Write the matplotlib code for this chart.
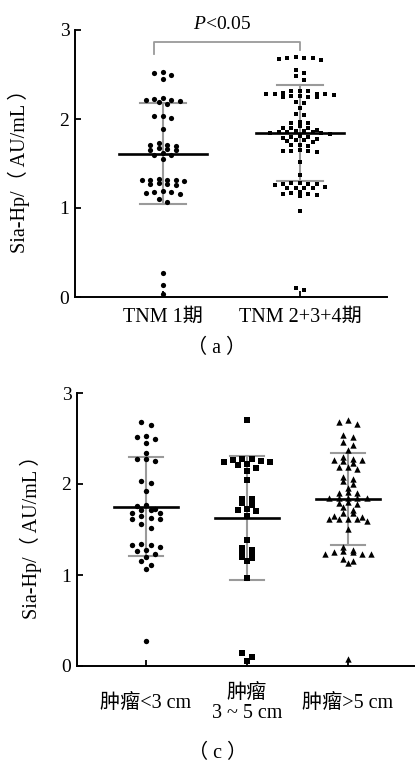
import numpy as np
import matplotlib
matplotlib.use("Agg")
import matplotlib.pyplot as plt

plt.rcParams['font.family'] = ['Liberation Serif', 'Noto Sans CJK SC', 'DejaVu Sans']
plt.rcParams['mathtext.fontset'] = 'custom'
plt.rcParams['mathtext.it'] = 'Liberation Serif:italic'
plt.rcParams['mathtext.rm'] = 'Liberation Serif'

# ---------------- data ----------------
# panel (a)
a_labels = ["TNM 1期", "TNM 2+3+4期"]
a_g1 = [2.53, 2.45, 2.50, 2.52,
        2.21, 2.23, 2.19, 2.17, 2.24, 2.20, 2.21,
        2.01, 2.03, 2.03, 1.89,
        1.73, 1.71, 1.71, 1.70, 1.66, 1.65, 1.67, 1.65, 1.62, 1.60, 1.59, 1.55,
        1.33, 1.32, 1.31, 1.32, 1.31, 1.30, 1.28, 1.27, 1.26, 1.27,
        1.19, 1.18, 1.17, 1.18, 1.16, 1.10, 1.07,
        0.27, 0.13, 0.03]
a_g2 = [2.67, 2.69, 2.69, 2.68, 2.70, 2.66,
        2.55, 2.52, 2.48, 2.44,
        2.28, 2.28, 2.28, 2.26, 2.31, 2.25, 2.31, 2.25, 2.25, 2.29, 2.31, 2.26, 2.28, 2.27,
        2.19, 2.18, 2.12, 2.05, 2.06, 1.97, 1.95, 1.96,
        1.92, 1.90, 1.90, 1.90, 1.88,
        1.86, 1.85, 1.85, 1.85, 1.84, 1.83, 1.86, 1.84,
        1.80, 1.80, 1.79, 1.81, 1.78,
        1.76, 1.76, 1.75, 1.74,
        1.71, 1.70, 1.71,
        1.64, 1.64, 1.63, 1.65, 1.64,
        1.52, 1.37,
        1.28, 1.27, 1.27, 1.26, 1.27, 1.28,
        1.23, 1.23, 1.24, 1.22, 1.23,
        1.17, 1.16, 1.16, 1.15, 1.13, 1.18,
        0.97, 0.08, 0.10]
a_mean = [1.61, 1.84]
a_sd_lo = [1.04, 1.30]
a_sd_hi = [2.18, 2.38]
a_ptext = "$P$<0.05"

# panel (c)
c_labels = ["肿瘤<3 cm", "肿瘤\n3 ~ 5 cm", "肿瘤>5 cm"]
c_g1 = [2.68, 2.65, 2.53, 2.52, 2.50, 2.45, 2.34, 2.28, 2.28, 2.25, 2.03, 2.01, 1.92,
        1.77, 1.76, 1.73, 1.71, 1.71, 1.68, 1.68, 1.65, 1.63, 1.61, 1.61, 1.56, 1.52,
        1.34, 1.33, 1.33, 1.31, 1.27, 1.26, 1.23, 1.20, 1.15, 1.11, 1.07, 0.27]
c_g2 = [2.70, 2.28, 2.27, 2.26, 2.25, 2.24, 2.24, 2.22, 2.21, 2.18, 2.14, 2.04,
        1.84, 1.84, 1.79, 1.77, 1.73, 1.71, 1.70, 1.65,
        1.38, 1.30, 1.27, 1.25, 1.22, 1.20, 1.19, 1.15, 0.97,
        0.14, 0.10, 0.05]
c_g3 = [2.70, 2.68, 2.66, 2.54, 2.52, 2.46, 2.43, 2.37,
        2.30, 2.28, 2.26, 2.25, 2.23, 2.26, 2.19, 2.17, 2.19,
        2.08, 2.05, 2.03, 2.00, 1.96, 1.91, 1.90, 1.90,
        1.85, 1.85, 1.85, 1.85, 1.85, 1.80, 1.78, 1.79, 1.75, 1.71, 1.68,
        1.64, 1.62, 1.68, 1.62, 1.65, 1.59, 1.61, 1.62, 1.51,
        1.31, 1.27, 1.26, 1.25, 1.25, 1.23, 1.23, 1.23, 1.18, 1.15, 1.13,
        0.08]
c_mean = [1.75, 1.63, 1.83]
c_sd_lo = [1.21, 0.95, 1.33]
c_sd_hi = [2.30, 2.31, 2.34]

ylabel = "Sia-Hp/（ AU/mL ）"
yticks = [0, 1, 2, 3]


def swarm_offsets(vals, row_h, step):
    vals = np.asarray(vals, dtype=float)
    order = list(np.argsort(-vals, kind="stable"))
    rows, cur = [], [order[0]]
    for idx in order[1:]:
        if vals[cur[0]] - vals[idx] < row_h:
            cur.append(idx)
        else:
            rows.append(cur)
            cur = [idx]
    rows.append(cur)
    off = np.zeros(len(vals))
    for r in rows:
        n = len(r)
        slots = [(k - (n - 1) / 2) * step for k in range(n)]
        slots_sorted = sorted(slots, key=lambda s: (abs(s), s))
        for idx, s in zip(r, slots_sorted):
            off[idx] = s
    return off


def style_axes(ax, xlim):
    ax.set_xlim(*xlim)
    ax.set_ylim(0, 3)
    for s in ['top', 'right']:
        ax.spines[s].set_visible(False)
    for s in ['left', 'bottom']:
        ax.spines[s].set_linewidth(1.4)
        ax.spines[s].set_color('black')
    ax.set_yticks(yticks)
    ax.set_yticklabels([str(t) for t in yticks], fontsize=14)
    ax.tick_params(axis='y', direction='in', length=4.5, width=1.3, pad=4)
    ax.tick_params(axis='x', direction='in', length=4.5, width=1.3)


def draw_group(ax, x, vals, marker, size, step, mean, lo, hi):
    off = swarm_offsets(vals, 0.045, step)
    ax.plot([x, x], [lo, hi], color='#9a9a9a', lw=1.5, zorder=2)
    for yv in (lo, hi):
        ax.plot([x - 0.17, x + 0.17], [yv, yv], color='#9a9a9a', lw=1.5, zorder=2)
    ax.scatter(x + off, vals, marker=marker, s=size, color='black',
               linewidths=0, zorder=3, clip_on=False)
    ax.plot([x - 0.32, x + 0.32], [mean, mean], color='black', lw=1.9, zorder=4)


fig = plt.figure(figsize=(4.15, 7.64), dpi=100)

# ---------------- panel (a) ----------------
axa = fig.add_axes([75 / 415, 1 - 297 / 764, (387 - 75) / 415, (297 - 30) / 764])
style_axes(axa, (0.358, 2.635))
a_groups = [a_g1, a_g2]
a_markers = ['o', 's']
a_sizes = [14, 12]
for i, (g, m, sz) in enumerate(zip(a_groups, a_markers, a_sizes)):
    draw_group(axa, i + 1, g, m, sz, 0.062, a_mean[i], a_sd_lo[i], a_sd_hi[i])
axa.set_xticks([1, 2])
axa.set_xticklabels(a_labels, fontsize=14.5, va='center')
axa.tick_params(axis='x', pad=15)
axa.set_ylabel(ylabel, fontsize=14.5)
axa.yaxis.set_label_coords(-0.145, 0.49)
# significance bracket
bx0, bx1 = 1 - 0.066, 2
axa.plot([bx0, bx0, bx1, bx1], [2.73, 2.87, 2.87, 2.78], color='#9a9a9a', lw=1.3,
         clip_on=False, zorder=2)
axa.text(1.43, 3.06, a_ptext, ha='center', va='center', fontsize=14, clip_on=False)

# ---------------- panel (c) ----------------
axc = fig.add_axes([77 / 415, 1 - 666 / 764, (415 - 77) / 415, (666 - 393) / 764])
style_axes(axc, (0.317, 3.663))
c_groups = [c_g1, c_g2, c_g3]
c_markers = ['o', 's', '^']
c_sizes = [15, 13, 21]
for i, (g, m, sz) in enumerate(zip(c_groups, c_markers, c_sizes)):
    draw_group(axc, i + 1, g, m, sz, 0.092, c_mean[i], c_sd_lo[i], c_sd_hi[i])
axc.set_xticks([1, 2, 3])
axc.set_xticklabels(c_labels, fontsize=14.5, va='center', linespacing=1.1)
axc.tick_params(axis='x', pad=27)
axc.set_ylabel(ylabel, fontsize=14.5)
axc.yaxis.set_label_coords(-0.105, 0.49)

fig.text(217 / 415, 1 - 348 / 764, "（ a ）", ha='center', va='center', fontsize=14.5)
fig.text(218 / 415, 1 - 753 / 764, "（ c ）", ha='center', va='center', fontsize=14.5)

fig.savefig("out.png", dpi=100)
